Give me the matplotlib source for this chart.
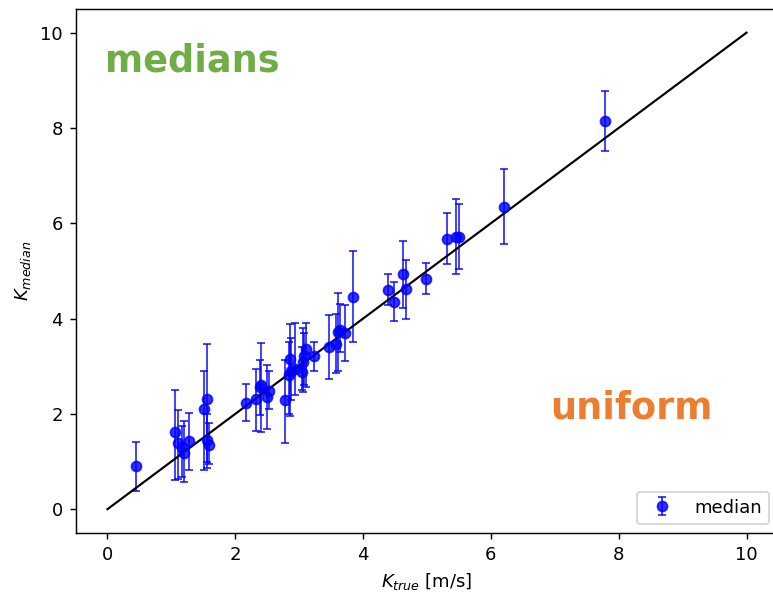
import matplotlib
matplotlib.use('Agg')
import matplotlib.pyplot as plt
import numpy as np

# K_true, K_median and the lower / upper ends of the error bars
k_true = [0.44, 1.06, 1.11, 1.17, 1.19, 1.27, 1.51, 1.56, 1.56, 1.59,
          2.16, 2.33, 2.38, 2.41, 2.50, 2.53, 2.78, 2.84, 2.85, 2.87,
          2.94, 3.04, 3.06, 3.08, 3.11, 3.23, 3.46, 3.58, 3.60, 3.64,
          3.72, 3.84, 4.39, 4.49, 4.62, 4.67, 4.99, 5.32, 5.45, 5.50,
          6.21, 7.79]
k_med = [0.91, 1.61, 1.39, 1.31, 1.18, 1.43, 2.10, 2.31, 1.46, 1.35,
         2.23, 2.32, 2.56, 2.60, 2.35, 2.49, 2.30, 2.81, 3.16, 2.91,
         2.95, 2.88, 3.09, 3.21, 3.37, 3.21, 3.40, 3.47, 3.72, 3.75,
         3.70, 4.45, 4.59, 4.35, 4.93, 4.61, 4.84, 5.66, 5.71, 5.71,
         6.34, 8.14]
k_lo = [0.38, 0.61, 0.63, 0.68, 0.57, 0.82, 0.82, 0.86, 1.00, 0.95,
        1.85, 1.64, 1.97, 1.62, 1.69, 2.10, 1.38, 2.00, 1.95, 2.30,
        2.40, 2.50, 2.45, 2.60, 2.56, 2.91, 2.73, 2.85, 2.89, 3.30,
        3.11, 3.51, 4.28, 3.95, 4.23, 4.00, 4.52, 5.14, 4.94, 5.05,
        5.57, 7.51]
k_hi = [1.40, 2.51, 2.09, 1.74, 1.84, 2.02, 2.89, 3.47, 2.00, 1.80,
        2.62, 2.95, 3.12, 3.49, 3.03, 2.90, 3.14, 3.50, 3.89, 3.60,
        3.91, 3.40, 3.80, 3.70, 3.91, 3.51, 4.07, 4.10, 4.53, 4.30,
        4.28, 5.42, 4.93, 4.77, 5.62, 5.23, 5.16, 6.21, 6.50, 6.41,
        7.13, 8.78]

k_true = np.array(k_true)
k_med = np.array(k_med)
yerr = [k_med - np.array(k_lo), np.array(k_hi) - k_med]

fig = plt.figure(figsize=(773 / 130, 596 / 130), dpi=130)
ax = fig.add_axes([0.0977, 0.1057, 0.9094, 0.8795])

ax.errorbar(k_true, k_med, yerr=yerr, fmt='o', color='blue', alpha=0.8,
            capsize=2, elinewidth=1.0, markersize=5.5, label='median')
ax.plot([0, 10], [0, 10], color='black', lw=1.2)

ax.set_xlabel('$K_{true}$ [m/s]')
ax.set_ylabel('$K_{median}$')
ax.legend(loc='lower right')

ax.text(0.042, 0.88, 'medians', transform=ax.transAxes, color='#70AD47',
        fontsize=20.3, fontweight='bold', va='baseline')
ax.text(0.675, 0.219, 'uniform', transform=ax.transAxes, color='#ED7D31',
        fontsize=20.3, fontweight='bold', va='baseline')

fig.savefig('out.png', dpi=130)
